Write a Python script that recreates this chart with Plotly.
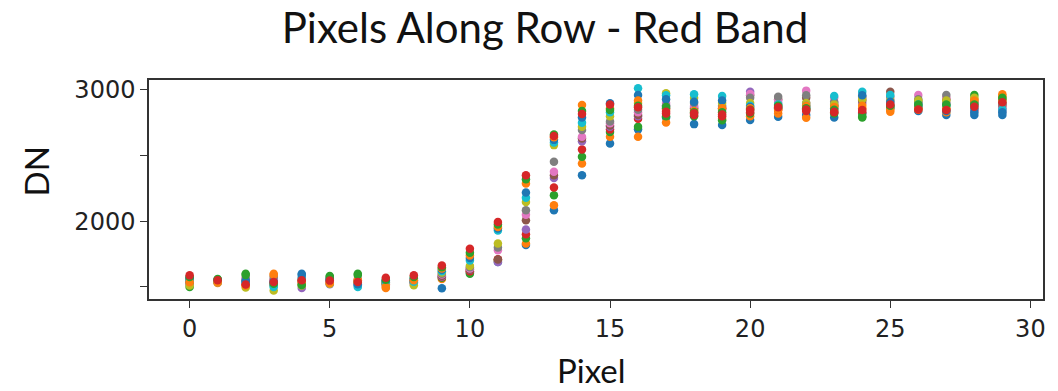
import plotly.graph_objects as go

pixels = list(range(30))

row_00 = [1530,1540,1540,1530,1600,1550,1510,1530,1540,1490,1610,1690,1820,2084,2351,2593,2700,2790,2740,2733,2771,2796,2810,2791,2820,2860,2840,2809,2809,2809]
row_01 = [1545,1530,1520,1600,1540,1540,1530,1491,1530,1560,1620,1700,1830,2122,2440,2644,2644,2753,2850,2780,2800,2820,2789,2880,2860,2835,2850,2830,2930,2967]
row_02 = [1499,1545,1600,1510,1520,1583,1600,1540,1560,1570,1600,1705,1870,2198,2491,2680,2720,2800,2800,2770,2820,2860,2850,2820,2791,2870,2880,2880,2962,2930]
row_03 = [1560,1555,1519,1545,1560,1530,1550,1520,1550,1575,1620,1710,1901,2257,2547,2700,2780,2820,2810,2800,2830,2850,2840,2830,2830,2880,2860,2850,2850,2880]
row_04 = [1520,1535,1530,1520,1492,1520,1525,1510,1525,1580,1630,1690,1937,2330,2610,2720,2800,2880,2870,2850,2987,2900,2900,2900,2900,2900,2900,2900,2880,2860]
row_05 = [1540,1550,1550,1560,1550,1545,1540,1530,1545,1585,1630,1708,2008,2350,2630,2730,2810,2860,2860,2860,2960,2930,2940,2880,2920,2987,2910,2930,2900,2900]
row_06 = [1555,1545,1570,1550,1530,1535,1560,1545,1555,1595,1640,1780,2050,2377,2644,2746,2830,2900,2880,2870,2970,2920,2995,2940,2940,2930,2962,2940,2850,2840]
row_07 = [1565,1540,1560,1580,1545,1560,1545,1535,1535,1600,1650,1800,2084,2453,2695,2760,2850,2880,2900,2880,2940,2949,2960,2910,2950,2950,2930,2962,2910,2890]
row_08 = [1510,1535,1496,1473,1510,1525,1535,1525,1512,1610,1660,1830,2147,2580,2720,2800,2900,2975,2940,2900,2900,2880,2900,2890,2930,2920,2920,2920,2940,2920]
row_09 = [1550,1548,1535,1500,1570,1555,1500,1540,1540,1620,1702,1930,2180,2600,2751,2830,3013,2960,2967,2954,2880,2890,2880,2954,2987,2962,2890,2880,2860,2850]
row_10 = [1570,1552,1545,1540,1590,1565,1520,1550,1565,1630,1720,1945,2219,2620,2790,2898,2962,2930,2910,2920,2870,2870,2870,2860,2960,2910,2870,2840,2830,2830]
row_11 = [1535,1538,1510,1590,1535,1530,1555,1500,1550,1640,1740,1957,2288,2640,2885,2860,2920,2850,2840,2860,2860,2850,2880,2870,2880,2850,2860,2860,2920,2950]
row_12 = [1575,1560,1590,1525,1515,1575,1590,1555,1575,1650,1760,1975,2320,2660,2840,2847,2880,2870,2830,2830,2850,2880,2860,2850,2800,2880,2890,2890,2890,2940]
row_13 = [1588,1550,1519,1538,1550,1548,1538,1569,1588,1664,1791,1995,2351,2650,2817,2890,2868,2835,2822,2814,2847,2868,2852,2835,2847,2890,2852,2847,2873,2907]

rows = [row_00, row_01, row_02, row_03, row_04, row_05, row_06,
        row_07, row_08, row_09, row_10, row_11, row_12, row_13]

y_tickvals = [1500, 2000, 2500, 3000]
y_ticktext = ["", "2000", "", "3000"]
x_tickvals = [0, 5, 10, 15, 20, 25, 30]

tab10 = ["#1f77b4", "#ff7f0e", "#2ca02c", "#d62728", "#9467bd",
         "#8c564b", "#e377c2", "#7f7f7f", "#bcbd22", "#17becf"]

fig = go.Figure()
for i, r in enumerate(rows):
    fig.add_trace(go.Scatter(
        x=pixels, y=r, mode="markers",
        marker=dict(size=8.5, color=tab10[i % 10], line=dict(width=0)),
        showlegend=False, name=f"row {i}"))

axis_common = dict(
    showline=True, linecolor="#333333", linewidth=1.5, mirror=True,
    ticks="outside", ticklen=7, tickwidth=1.2, tickcolor="#333333",
    showgrid=False, zeroline=False,
    tickfont=dict(family="DejaVu Sans", size=24, color="#222222"),
)

fig.update_layout(
    width=1058, height=391,
    margin=dict(l=149, r=12, t=80, b=92),
    paper_bgcolor="white", plot_bgcolor="white",
    title=dict(text="Pixels Along Row - Red Band",
               font=dict(family="Lato", size=42, color="#111111"),
               x=545 / 1058, xanchor="center", xref="container",
               y=1 - 28 / 391, yanchor="middle", yref="container"),
    xaxis=dict(range=[-1.45, 30.45], tickvals=x_tickvals, **axis_common),
    yaxis=dict(range=[1408, 3076], tickvals=y_tickvals, ticktext=y_ticktext,
               **axis_common),
    annotations=[
        dict(text="Pixel", xref="paper", yref="paper",
             x=(593 - 149) / 897, y=(299 - 370) / 219,
             xanchor="center", yanchor="middle", showarrow=False,
             font=dict(family="Lato", size=33, color="#111111")),
        dict(text="DN", xref="paper", yref="paper",
             x=(36 - 149) / 897, y=(299 - 171) / 219, textangle=-90,
             xanchor="center", yanchor="middle", showarrow=False,
             font=dict(family="Lato", size=33, color="#111111")),
    ],
)

fig.write_html(
    "out.html",
    config={"displayModeBar": False},
    post_script="document.body.style.margin='0';document.body.style.padding='0';",
)
